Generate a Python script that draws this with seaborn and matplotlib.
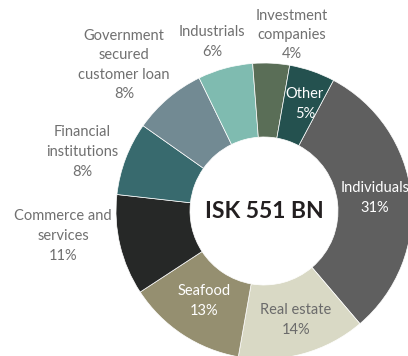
import matplotlib
matplotlib.use("Agg")
import matplotlib.pyplot as plt
import seaborn as sns

sns.set_theme(style="white")
plt.rcParams["font.family"] = ["Lato", "DejaVu Sans"]

# Loan portfolio by sector, clockwise starting with Individuals
sectors = ["Individuals", "Real estate", "Seafood", "Commerce and\nservices",
           "Financial\ninstitutions", "Government\nsecured\ncustomer loan",
           "Industrials", "Investment\ncompanies", "Other"]
shares = [31, 14, 13, 11, 8, 8, 6, 4, 5]
colors = ["#5f5f5f", "#d9d9c5", "#958f70", "#262827", "#386a6e",
          "#728a93", "#7fbbb0", "#5a6e57", "#24514f"]
center_text = "ISK 551 BN"

# label anchors (pixel positions in the 408x356 canvas) and text colours
label_px = [(375, 198), (296, 320), (204, 301), (63, 236), (82, 152),
            (124, 65), (212, 42), (292, 35), (305, 104)]
label_colors = ["white", "#6b6b6b", "white", "#707070", "#707070",
                "#707070", "#707070", "#707070", "white"]

W, H = 408, 356
cx, cy, R = 264, 211, 148

fig = plt.figure(figsize=(W / 100, H / 100), dpi=100)
ax = fig.add_axes([0, 0, 1, 1])
ax.pie(shares, colors=colors, radius=1, startangle=62, counterclock=False,
       wedgeprops=dict(width=0.5, edgecolor="white", linewidth=0.5))
ax.set_xlim((0 - cx) / R, (W - cx) / R)
ax.set_ylim((cy - H) / R, cy / R)
ax.set_aspect("auto")
ax.axis("off")


def to_data(px, py):
    return (px - cx) / R, (cy - py) / R


for name, val, (px, py), col in zip(sectors, shares, label_px, label_colors):
    x, y = to_data(px, py)
    ax.text(x, y, f"{name}\n{val}%", ha="center", va="center",
            fontsize=10.5, color=col, linespacing=1.5)

ax.text(0, 0, center_text, ha="center", va="center", fontsize=16.5,
        fontweight="bold", color="#231f20")

fig.savefig("out.png", dpi=100, facecolor="white")
